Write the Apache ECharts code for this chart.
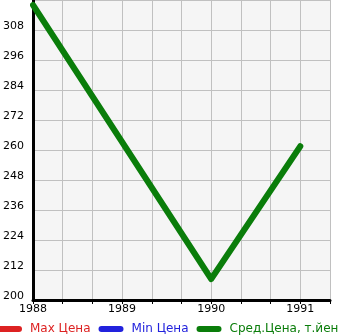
<!DOCTYPE html>
<html><head><meta charset="utf-8">
<script src="https://cdn.jsdelivr.net/npm/echarts@6/dist/echarts.min.js"></script>
<style>html,body{margin:0;padding:0;background:#fff}#c{width:345px;height:335px}</style>
</head><body><div id="c"></div>
<script>
var years = [1988, 1990, 1991];
var avgPrice = [318, 208.4, 261.5];
var maxPrice = [];
var minPrice = [];
var seriesNames = ['Max Цена', 'Min Цена', 'Сред.Цена, т.йен'];
var yTicks = [200, 212, 224, 236, 248, 260, 272, 284, 296, 308, 320];
var colors = ['#dd2222', '#2222dd', '#0a7d0a'];

var chart = echarts.init(document.getElementById('c'), null, {renderer: 'canvas'});
var pill = 'path://M3,0 L22,0 A3,3 0 0 1 22,6 L3,6 A3,3 0 0 1 3,0 Z';
chart.setOption({
  animation: false,
  grid: {left: 31, right: 15, top: 0, bottom: 35, show: true, backgroundColor: '#f5f5f5', borderWidth: 0},
  legend: {
    bottom: 0, left: -3, width: 420, itemWidth: 25, itemHeight: 6, itemGap: 8,
    icon: pill, padding: 0,
    data: seriesNames.map(function(n, i){ return {name: n, textStyle: {color: colors[i]}}; }),
    textStyle: {fontFamily: 'DejaVu Sans', fontSize: 12, padding: [0, 0, 0, 3]}
  },
  xAxis: {
    type: 'value', min: 1988, max: 1991 + 1/3, interval: 1/3,
    axisLine: {show: true, onZero: false, lineStyle: {color: '#000', width: 3}},
    axisTick: {show: true, length: 4, lineStyle: {color: '#000', width: 1}},
    splitLine: {show: true, lineStyle: {color: '#c0c0c0', width: 1}},
    axisLabel: {
      color: '#000', fontFamily: 'DejaVu Sans', fontSize: 11, margin: 4, showMaxLabel: false,
      formatter: function(v){ return Math.abs(v - Math.round(v)) < 1e-6 ? String(Math.round(v)) : ''; }
    }
  },
  yAxis: {
    type: 'value', min: yTicks[0], max: yTicks[yTicks.length - 1], interval: 12,
    axisLine: {show: true, onZero: false, lineStyle: {color: '#000', width: 3}},
    axisTick: {show: false},
    splitLine: {show: true, lineStyle: {color: '#c0c0c0', width: 1}},
    axisLabel: {
      color: '#000', fontFamily: 'DejaVu Sans', fontSize: 11, margin: 30, align: 'left',
      verticalAlign: 'bottom', lineHeight: 8, showMaxLabel: false
    }
  },
  series: [
    {name: seriesNames[0], type: 'line', data: maxPrice, itemStyle: {color: colors[0]}, lineStyle: {width: 6}},
    {name: seriesNames[1], type: 'line', data: minPrice, itemStyle: {color: colors[1]}, lineStyle: {width: 6}},
    {name: seriesNames[2], type: 'line', showSymbol: false, symbol: 'none',
     data: years.map(function(y, i){ return [y, avgPrice[i]]; }),
     itemStyle: {color: colors[2]}, lineStyle: {width: 6, color: colors[2], cap: 'round', join: 'round'}}
  ]
});
</script></body></html>
